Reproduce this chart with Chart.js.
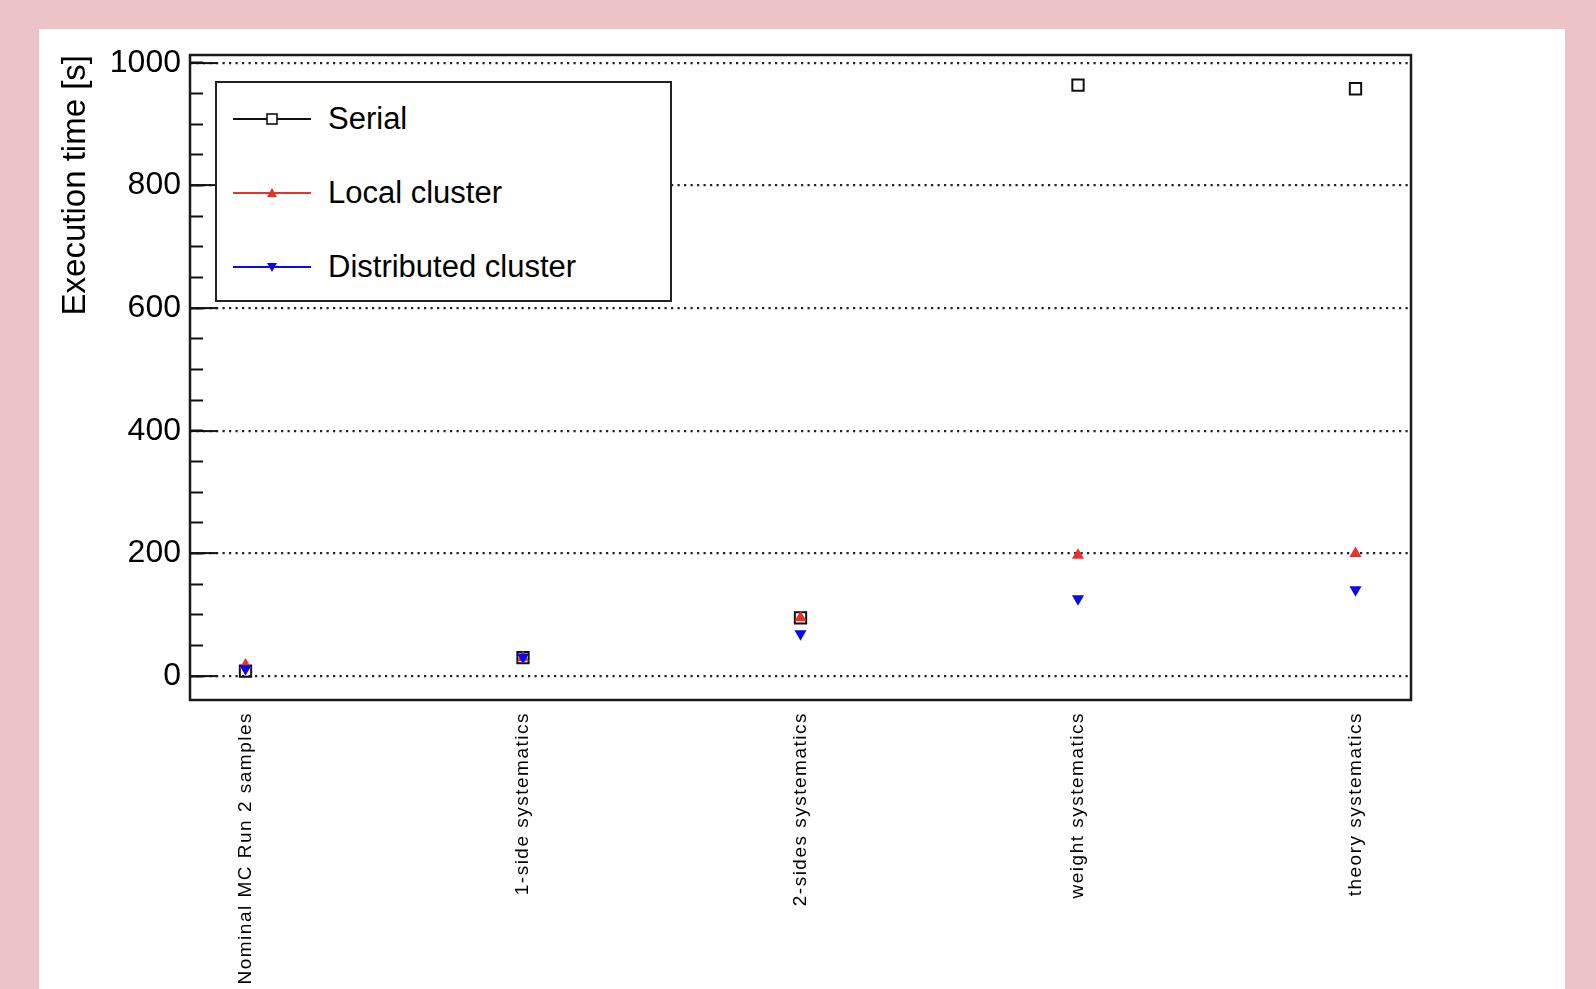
<!DOCTYPE html>
<html>
<head>
<meta charset="utf-8">
<script src="https://cdn.jsdelivr.net/npm/chart.js@4.4.0/dist/chart.umd.min.js"></script>
<style>
  html, body { margin: 0; padding: 0; }
  body {
    width: 1596px; height: 989px; overflow: hidden; position: relative;
    background: #ecc4c8;
    font-family: 'Liberation Sans', Arial, sans-serif;
  }
  #panel { position: absolute; left: 39px; top: 29px; width: 1526px; height: 960px; background: #fff; }
  #legend {
    position: absolute; left: 176px; top: 52px; width: 453px; height: 217px;
    background: #fff; border: 2px solid #222;
  }
  .item { position: absolute; left: 0; height: 40px; display: flex; align-items: center; font-size: 31px; color: #000; white-space: nowrap; }
  .item svg { margin-left: 16px; margin-right: 17px; }
</style>
</head>
<body>
<div id="panel">
  <canvas id="execChart"></canvas>
  <div id="legend"></div>
</div>
<script>
// categories on the x axis
const categories = [
  'Nominal MC Run 2 samples',
  '1-side systematics',
  '2-sides systematics',
  'weight systematics',
  'theory systematics'
];

// execution time [s] per category
const serialTimes = [8, 30, 95, 964, 958];
const localTimes = [18, 30, 95, 197, 200];
const distributedTimes = [12, 31, 69, 126, 141];

const seriesNames = ['Serial', 'Local cluster', 'Distributed cluster'];
const yMajorTicks = [0, 200, 400, 600, 800, 1000];
const yMinorStep = 50;

Chart.defaults.font.family = "'Liberation Sans', Arial, sans-serif";
Chart.defaults.color = '#000';

const toPoints = arr => arr.map((y, i) => ({ x: i, y: y }));

// box around the plot area (ROOT style frame)
const frame = {
  id: 'frame',
  beforeDatasetsDraw(chart) {
    const { ctx, chartArea: a } = chart;
    ctx.save();
    ctx.strokeStyle = '#1a1a1a';
    ctx.lineWidth = 2.5;
    ctx.strokeRect(a.left, a.top, a.right - a.left, a.bottom - a.top);
    ctx.restore();
  }
};

// x labels are drawn a bit letter-spaced in the original
const spacedLabels = {
  id: 'spacedLabels',
  beforeDraw(chart) {
    const sc = chart.scales.x;
    if (sc._spaced) return;
    const orig = sc.drawLabels;
    sc.drawLabels = function (area) {
      this.ctx.save();
      this.ctx.letterSpacing = '1.5px';
      orig.call(this, area);
      this.ctx.restore();
    };
    sc._spaced = true;
  }
};

const ctx = document.getElementById('execChart').getContext('2d');
const chart = new Chart(ctx, {
  type: 'scatter',
  data: {
    datasets: [
      {
        label: seriesNames[0],
        data: toPoints(serialTimes),
        pointStyle: 'rect',
        pointRadius: 8,
        pointBorderWidth: 2,
        borderColor: '#111',
        backgroundColor: 'rgba(0,0,0,0)',
        order: 2
      },
      {
        label: seriesNames[1],
        data: toPoints(localTimes),
        pointStyle: 'triangle',
        pointRadius: 7,
        pointBorderWidth: 0,
        borderColor: '#e8312a',
        backgroundColor: '#e8312a',
        order: 1
      },
      {
        label: seriesNames[2],
        data: toPoints(distributedTimes),
        pointStyle: 'triangle',
        pointRotation: 180,
        pointRadius: 7,
        pointBorderWidth: 0,
        borderColor: '#0a0ae6',
        backgroundColor: '#0a0ae6',
        order: 0
      }
    ]
  },
  options: {
    responsive: true,
    maintainAspectRatio: false,
    animation: false,
    events: [],
    layout: { padding: { left: 0, top: 26, right: 154, bottom: 0 } },
    plugins: {
      legend: { display: false },
      tooltip: { enabled: false }
    },
    scales: {
      x: {
        type: 'linear',
        min: -0.2,
        max: 4.2,
        afterBuildTicks: s => { s.ticks = categories.map((c, i) => ({ value: i })); },
        afterFit: s => { s.height = 289; s.paddingLeft = 0; s.paddingRight = 0; },
        grid: { display: false, drawTicks: false },
        border: { display: false },
        ticks: {
          autoSkip: false,
          minRotation: 90,
          maxRotation: 90,
          padding: 12,
          color: '#000',
          font: { size: 19 },
          callback: v => categories[v]
        }
      },
      y: {
        weight: 1,
        min: -39,
        max: 1013,
        afterBuildTicks: s => { s.ticks = yMajorTicks.map(v => ({ value: v })); },
        afterFit: s => { s.width = 151; s.paddingTop = 0; s.paddingBottom = 0; },
        grid: { color: '#222', lineWidth: 2.2, tickLength: -27, tickColor: '#111', tickWidth: 2 },
        border: { display: false, dash: [2.2, 4.3] },
        ticks: { padding: 36, color: '#000', font: { size: 32 }, callback: v => String(v) },
        title: {
          display: true,
          text: 'Execution time [s]',
          align: 'end',
          color: '#000',
          font: { size: 33 },
          padding: { top: 17 }
        }
      },
      yMinor: {
        position: 'left',
        weight: 0,
        min: -39,
        max: 1013,
        afterBuildTicks: s => {
          const t = [];
          for (let v = 0; v <= 1000; v += yMinorStep) t.push({ value: v });
          s.ticks = t;
        },
        afterFit: s => { s.width = 0; },
        ticks: { display: false },
        grid: { drawOnChartArea: false, tickLength: -13, tickColor: '#111', tickWidth: 2 },
        border: { display: false }
      }
    }
  },
  plugins: [frame, spacedLabels]
});

// legend box inside the frame, like the ROOT TLegend
function markerSvg(ds) {
  const c = ds.borderColor;
  let m;
  if (ds.pointStyle === 'rect') {
    m = `<rect x="34" y="5" width="10" height="10" fill="#fff" stroke="${c}" stroke-width="1.6"/>`;
  } else if (ds.pointRotation === 180) {
    m = `<polygon points="34,6 44,6 39,15" fill="${c}"/>`;
  } else {
    m = `<polygon points="34,14 44,14 39,5" fill="${c}"/>`;
  }
  return `<svg width="78" height="20" viewBox="0 0 78 20">
    <line x1="0" y1="10" x2="78" y2="10" stroke="${c}" stroke-width="2"/>${m}</svg>`;
}

const legendBox = document.getElementById('legend');
chart.data.datasets.forEach((ds, i) => {
  const row = document.createElement('div');
  row.className = 'item';
  row.style.top = (16 + i * 74) + 'px';
  row.innerHTML = markerSvg(ds) + '<span>' + ds.label + '</span>';
  legendBox.appendChild(row);
});
</script>
</body>
</html>
